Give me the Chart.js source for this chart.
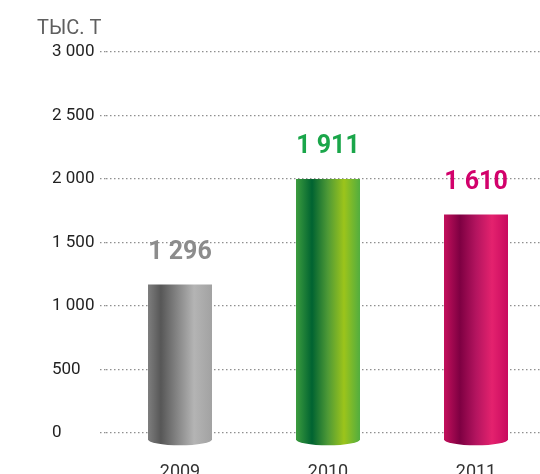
<!DOCTYPE html>
<html>
<head>
<meta charset="utf-8">
<script src="https://cdn.jsdelivr.net/npm/chart.js@4.4.0/dist/chart.umd.min.js"></script>
<style>
    html, body { margin: 0; padding: 0; background: #fff; overflow: hidden; }
    #wrap { width: 550px; height: 474px; position: relative; }
</style>
</head>
<body>
<div id="wrap"><canvas id="chart"></canvas></div>
<script>
// данные
const years = ['2009', '2010', '2011'];
// высота столбиков, как они нарисованы
const barValues = [1170, 2000, 1720];
// подписи над столбиками
const labelValues = [1296, 1911, 1610];

// стили
const labelColors = ['#8c8c8c', '#1aa64a', '#d2016b'];
const barStops = [
    [[0, '#7e7e7e'], [0.2, '#575757'], [0.72, '#b4b4b4'], [1, '#a2a2a2']],
    [[0, '#3c9c3e'], [0.25, '#006331'], [0.5, '#4f9a36'], [0.75, '#9cc41b'], [1, '#52ad3f']],
    [[0, '#c4105c'], [0.25, '#7e0042'], [0.5, '#b3145f'], [0.75, '#e4226e'], [1, '#c80a5f']]
];

const fmt = n => String(n).replace(/\B(?=(\d{3})+(?!\d))/g, ' ');

// цилиндры + подписи
const cylinders = {
    id: 'cylinders',
    afterDatasetsDraw(chart) {
        const ctx = chart.ctx;
        const meta = chart.getDatasetMeta(0);
        meta.data.forEach((bar, i) => {
            const w = bar.width;
            const x0 = bar.x - w / 2, x1 = bar.x + w / 2;
            const top = bar.y, base = bar.base + 7, ry = 6;
            const g = ctx.createLinearGradient(x0, 0, x1, 0);
            barStops[i].forEach(s => g.addColorStop(s[0], s[1]));
            ctx.save();
            ctx.beginPath();
            ctx.moveTo(x0, top);
            ctx.lineTo(x1, top);
            ctx.lineTo(x1, base);
            ctx.ellipse(bar.x, base, w / 2, ry, 0, 0, Math.PI);
            ctx.closePath();
            ctx.fillStyle = g;
            ctx.fill();

            ctx.font = 'bold 25px Roboto';
            ctx.fillStyle = labelColors[i];
            ctx.textAlign = 'center';
            ctx.textBaseline = 'middle';
            ctx.fillText(fmt(labelValues[i]), bar.x, top - 32);
            ctx.restore();
        });

        // единицы
        ctx.save();
        ctx.font = '20px Roboto';
        ctx.fillStyle = '#5f5f5f';
        ctx.textAlign = 'left';
        ctx.textBaseline = 'alphabetic';
        ctx.fillText('ТЫС. Т', 37, 34);
        ctx.restore();
    }
};

const dots = [1.5, 2.5];

new Chart(document.getElementById('chart'), {
    type: 'bar',
    data: {
        labels: years,
        datasets: [{
            data: barValues,
            backgroundColor: 'rgba(0,0,0,0)',
            barThickness: 64
        }]
    },
    options: {
        responsive: true,
        maintainAspectRatio: false,
        animation: false,
        layout: { padding: { left: 52, top: 52, right: 0, bottom: 0 } },
        plugins: {
            legend: { display: false },
            tooltip: { enabled: false }
        },
        scales: {
            y: {
                min: 0,
                max: 3000,
                border: { display: false, dash: dots },
                grid: {
                    color: '#8f8f8f',
                    lineWidth: 1.3,
                    drawTicks: true,
                    tickLength: 6,
                    tickColor: '#8f8f8f',
                    tickBorderDash: dots
                },
                ticks: {
                    stepSize: 500,
                    crossAlign: 'far',
                    color: '#222',
                    font: { family: 'Roboto', size: 17 },
                    callback: v => fmt(v)
                },
                afterFit(scale) { scale.width = 54; }
            },
            x: {
                border: { display: false },
                grid: { display: false, drawTicks: false },
                ticks: {
                    color: '#333',
                    padding: 29,
                    font: { family: 'Roboto', size: 18 }
                },
                afterFit(scale) { scale.height = 41; }
            }
        }
    },
    plugins: [cylinders]
});
</script>
</body>
</html>
